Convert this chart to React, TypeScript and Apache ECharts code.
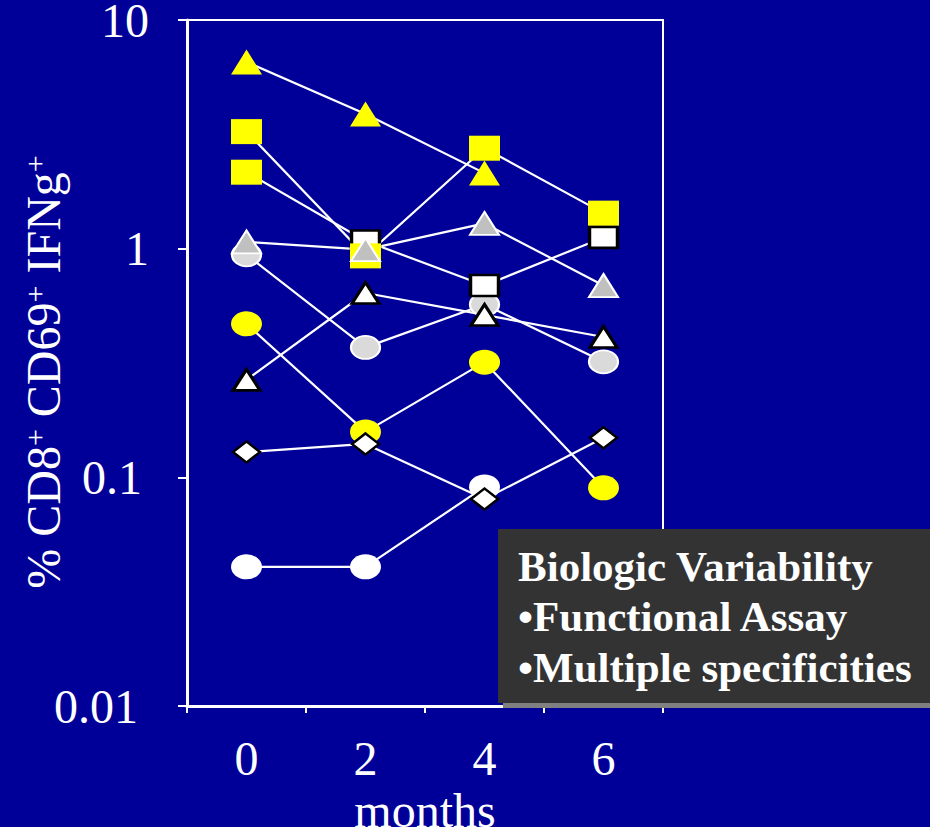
import React, { useEffect, useRef } from 'react';
import * as echarts from 'echarts';

// ---- data ----
const months = ['0', '2', '4', '6'];
const yTickLabels = ['0.01', '0.1', '1', '10'];

const yellowTriangle = [6.55, 3.88, 2.14, null];
const yellowSquare = [3.25, 0.93, 2.75, 1.43];
const whiteSquare = [2.16, 1.08, 0.69, 1.12];
const grayTriangle = [1.07, 0.99, 1.29, 0.69];
const grayCircle = [0.94, 0.37, 0.57, 0.32];
const whiteTriangle = [0.267, 0.64, 0.513, 0.411];
const yellowCircle = [0.469, 0.158, 0.319, 0.09];
const diamond = [0.129, 0.14, 0.0804, 0.149];
const whiteCircle = [0.0406, 0.0406, 0.0908, null];

const boxLines = ['Biologic Variability', '\u2022Functional Assay', '\u2022Multiple specificities'];

const ELLIPSE = 'path://M0 50A50 50 0 1 1 100 50A50 50 0 1 1 0 50Z';
const SERIF = '"Liberation Serif", "Times New Roman", serif';
const BLUE = '#000099';
const YELLOW = '#ffff00';

export default function App() {
  const ref = useRef<HTMLDivElement>(null);

  useEffect(() => {
    if (!ref.current) return;
    const chart = echarts.init(ref.current, undefined, { renderer: 'svg' });

    const lineSeries = [
      yellowTriangle, yellowSquare, whiteSquare, grayTriangle, grayCircle,
      whiteTriangle, yellowCircle, diamond, whiteCircle,
    ].map((d) => ({
      type: 'line',
      data: d,
      symbol: 'none',
      silent: true,
      lineStyle: { color: '#ffffff', width: 2.2, opacity: 1 },
      z: 2,
    }));

    const sc = (data: any[], symbol: string, size: number[], itemStyle: any) => ({
      type: 'scatter',
      data,
      symbol,
      symbolSize: size,
      silent: true,
      itemStyle: { opacity: 1, ...itemStyle },
      z: 3,
    });

    const whiteSquareData = whiteSquare.map((v, i) =>
      i === 0
        ? { value: v, symbolSize: [31, 25], itemStyle: { color: YELLOW, borderWidth: 0, opacity: 1 } }
        : v
    );

    const scatterSeries = [
      sc(grayCircle, ELLIPSE, [29, 23], { color: '#dadada', borderColor: '#ffffff', borderWidth: 2 }),
      sc(whiteCircle, ELLIPSE, [31, 25], { color: '#ffffff' }),
      sc(yellowCircle, ELLIPSE, [31, 25], { color: YELLOW }),
      sc(whiteSquareData, 'rect', [28, 21], { color: '#ffffff', borderColor: '#000000', borderWidth: 3 }),
      sc(yellowSquare, 'rect', [31, 25], { color: YELLOW }),
      sc(grayTriangle, 'triangle', [29, 23], { color: '#c0c0c0', borderColor: '#ffffff', borderWidth: 2 }),
      sc(whiteTriangle, 'triangle', [27, 21], { color: '#ffffff', borderColor: '#000000', borderWidth: 3 }),
      sc(yellowTriangle, 'triangle', [31, 25], { color: YELLOW }),
      sc(diamond, 'diamond', [27, 21], { color: '#ffffff', borderColor: '#000000', borderWidth: 2.5 }),
    ];

    const lab = { color: '#ffffff', fontSize: 48, fontFamily: SERIF, lineHeight: 40 };

    chart.setOption({
      animation: false,
      backgroundColor: BLUE,
      grid: {
        left: 187, right: 267, top: 20, bottom: 121,
        outerBoundsMode: 'none',
        containLabel: false,
        show: true, borderColor: '#ffffff', borderWidth: 2, backgroundColor: 'transparent',
      },
      xAxis: {
        type: 'category',
        data: months,
        boundaryGap: true,
        name: 'months',
        nameLocation: 'middle',
        nameGap: 74,
        nameTextStyle: { color: '#ffffff', fontSize: 48, fontFamily: SERIF, lineHeight: 44 },
        axisLine: { lineStyle: { color: '#ffffff', width: 3 } },
        axisTick: { show: true, length: 7, lineStyle: { color: '#ffffff', width: 2 } },
        axisLabel: { color: '#ffffff', fontSize: 48, fontFamily: SERIF, margin: 28 },
        splitLine: { show: false },
      },
      yAxis: {
        type: 'log',
        logBase: 10,
        min: 0.01,
        max: 10,
        axisLine: { show: true, lineStyle: { color: '#ffffff', width: 3 } },
        axisTick: { show: true, length: 9, lineStyle: { color: '#ffffff', width: 2 } },
        axisLabel: {
          ...lab,
          margin: 38,
          formatter: (v: number) => {
            const k = Math.round(Math.log10(v)) + 2;
            const t = yTickLabels[k] ?? '';
            return `{p${k}|${t}}`;
          },
          rich: {
            p0: { ...lab, padding: [0, 11, 0, 0] },
            p1: { ...lab, padding: [0, 7, 0, 0] },
            p2: { ...lab },
            p3: { ...lab },
          },
        },
        splitLine: { show: false },
        minorTick: { show: false },
      },
      graphic: [
        {
          type: 'text',
          x: 43,
          y: 372,
          rotation: Math.PI / 2,
          silent: true,
          style: {
            text: '{a|% CD8}{s|+}{a| CD69}{s|+}{a| IFNg}{s|+}',
            align: 'center',
            verticalAlign: 'middle',
            fill: '#ffffff',
            rich: {
              a: { fontSize: 48, fontFamily: SERIF, fill: '#ffffff', color: '#ffffff' },
              s: { fontSize: 30, fontFamily: SERIF, fill: '#ffffff', color: '#ffffff', verticalAlign: 'top' },
            },
          },
        },
        {
          type: 'rect', z: 100, silent: true,
          shape: { x: 503, y: 534, width: 427, height: 174 },
          style: { fill: '#808080' },
        },
        {
          type: 'rect', z: 101, silent: true,
          shape: { x: 498, y: 529, width: 432, height: 174 },
          style: { fill: '#333333' },
        },
        ...boxLines.map((t, i) => ({
          type: 'text', z: 102, silent: true,
          x: 518, y: 566 + i * 50.5,
          style: {
            text: t, fill: '#ffffff', font: `bold 43px ${SERIF}`,
            align: 'left', verticalAlign: 'middle',
          },
        })),
      ],
      series: [...lineSeries, ...scatterSeries],
    });

    return () => chart.dispose();
  }, []);

  return (
    <div
      ref={ref}
      style={{ position: 'fixed', left: 0, top: 0, width: 930, height: 827, background: BLUE }}
    />
  );
}
